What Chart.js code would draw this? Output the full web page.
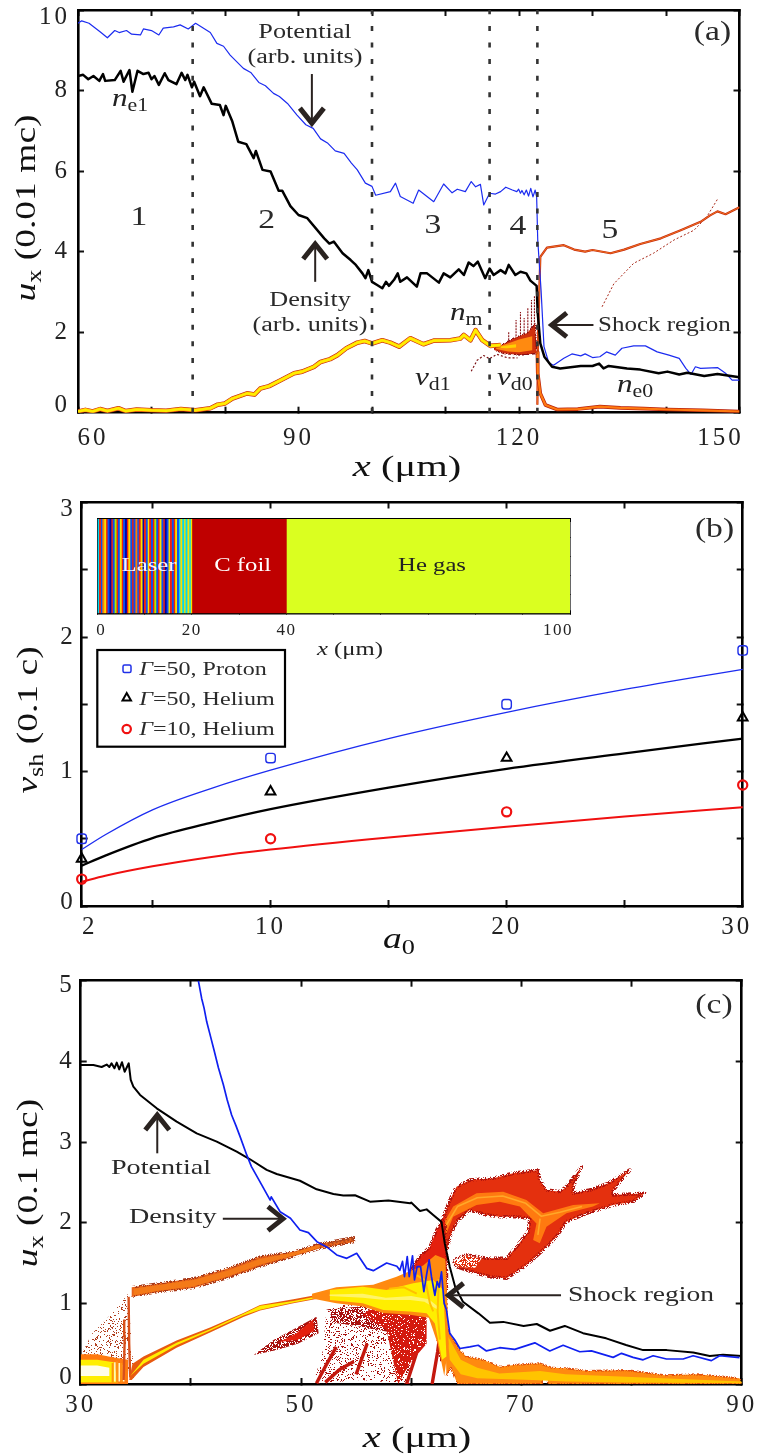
<!DOCTYPE html>
<html><head><meta charset="utf-8">
<style>html,body{margin:0;padding:0;background:#fff}canvas{position:absolute;left:0}</style>
<script src="https://cdn.jsdelivr.net/npm/chart.js@4/dist/chart.umd.js"></script>
</head><body>
<canvas id="ca" style="top:0"></canvas>
<canvas id="cb" style="top:490px"></canvas>
<canvas id="ci" style="top:500px;z-index:2"></canvas>
<canvas id="cc" style="top:960px"></canvas>
<script>
/* ===== panel (a) values ===== */
const aTicksX=[60,70,80,90,100,110,120,130,140,150];
const aLabelsX=[60,90,120,150];
const aShockLines=[75.6,100,116,122.5];
const aPotential=[[60,9.67],[60.5,9.73],[61.5,9.67],[63,9.46],[64,9.31],[65,9.49],[65.6,9.44],[66.6,9.49],[67.3,9.4],[68.5,9.38],[68.9,9.53],[70,9.49],[71,9.38],[71.6,9.55],[73,9.58],[73.9,9.63],[75,9.53],[76,9.67],[78,9.44],[78.9,9.17],[79.8,9.1],[80.7,8.88],[82.5,8.55],[83.5,8.45],[84.6,8.2],[85.5,8.12],[86.6,7.93],[87.4,7.85],[88.5,7.68],[89.8,7.39],[91,7.15],[92,7.06],[93,6.8],[94,6.69],[95,6.5],[96.2,6.44],[97.2,6.2],[98,6.03],[99.1,5.7],[100,5.62],[100.5,5.4],[102.5,5.49],[103.2,5.7],[103.85,5.37],[105.6,5.2],[106.35,5.53],[108.4,5.24],[109.75,5.68],[110.9,5.46],[111.6,5.55],[112.7,5.49],[113.5,5.74],[114.1,5.61],[114.75,5.67],[115.2,5.16],[116,5.45],[116.8,5.43],[117.5,5.49],[118.2,5.6],[119.1,5.53],[119.7,5.49],[119.95,5.55],[120.2,5.45],[120.4,5.52],[120.7,5.41],[121,5.53],[121.3,5.38],[121.6,5.57],[121.9,5.36],[122.2,5.53],[122.4,5.36],[122.55,4.29],[123,3.05],[123.4,1.64],[124.05,1.24],[124.7,1.18],[126.1,1.35],[127.2,1.46],[128.4,1.41],[129,1.46],[130,1.37],[131,1.39],[131.9,1.51],[133.1,1.43],[134,1.6],[135.6,1.66],[137.2,1.66],[138.8,1.51],[140.4,1.43],[141.8,1.35],[142.7,1.1],[143.4,.95],[144,1.14],[144.7,1.1],[147,1.12],[148.1,.98],[149,.81],[150,.81]];
const aDensity=[[60,8.36],[60.7,8.39],[61.4,8.28],[62.1,8.36],[62.9,8.24],[63.4,8.41],[63.7,8.24],[65,8.26],[65.8,8.49],[66.2,8.22],[67,8.51],[67.4,7.97],[68.1,8.49],[68.9,8.41],[69.6,8.44],[70,8.28],[70.4,8.36],[71,8.14],[71.8,8.43],[72.3,8.26],[73.4,8.16],[74.1,8.44],[74.6,8.26],[74.9,8.39],[75.5,8.08],[75.8,8.22],[76.6,7.86],[77.1,8.08],[78.2,7.67],[79.3,7.64],[79.8,7.39],[80.1,7.62],[81,7.23],[81.8,6.73],[82.9,6.67],[83.9,6.32],[84.2,6.5],[85.1,6.03],[86.2,5.99],[87.3,5.51],[87.8,5.51],[88.9,5.13],[90,4.91],[91.2,4.83],[93.5,4.33],[94.2,4.2],[94.8,4.25],[96,3.96],[97.1,3.79],[97.8,3.67],[98.7,3.46],[99.1,3.34],[99.5,3.54],[100,3.25],[100.7,3.17],[101.4,3.09],[101.9,3.25],[102.3,3.15],[103,3.3],[103.5,3.46],[103.85,3.25],[104.76,3.36],[106.1,3.13],[106.6,3.46],[107.5,3.46],[109.1,3.23],[109.75,3.46],[110.65,3.36],[111.8,3.56],[112.5,3.42],[113.15,3.73],[113.8,3.64],[114.4,3.75],[115.4,3.34],[116,3.58],[116.55,3.42],[117.5,3.54],[118.15,3.46],[118.6,3.67],[119.5,3.42],[120.2,3.5],[121,3.46],[121.55,3.28],[122.4,3.15],[122.55,2.47],[122.9,1.72],[123.45,1.39],[124.5,1.14],[125.6,1.1],[128.4,1.16],[130,1.16],[130.9,1.22],[131.5,1.1],[132.2,1.16],[134.7,1.1],[136.5,1.07],[139,.98],[140.2,1.02],[141.8,.95],[142.9,.99],[145.2,.91],[147,.96],[150,.88]];
const aBeam=[[60,.03],[61,.07],[62,.03],[63,.09],[64,.04],[65.5,.11],[66.5,.04],[68,.08],[70,.06],[72,.05],[74,.09],[76,.06],[78,.11],[79,.2],[80,.23],[81,.35],[83,.48],[84,.45],[84.8,.6],[86,.66],[87.5,.8],[89.4,.98],[90.5,1.02],[92.1,1.14],[93,1.26],[94.3,1.33],[95.3,1.43],[96.5,1.6],[98,1.74],[99,1.78],[100,1.72],[101.4,1.8],[102.5,1.74],[103.7,1.64],[105.2,1.85],[107,1.7],[108.4,1.79],[110.65,1.8],[112,1.84],[112.5,1.93],[113.4,1.8],[114.1,2.05],[115,1.8],[116.1,1.66],[117.5,1.68]];
const aFan=[[116.6,1.6],[118,1.72],[119.3,1.85],[121.1,1.98],[122.2,2.2],[122.4,1.47],[120.2,1.43],[118,1.47],[116.6,1.56]];
const aFanCore=[[116.9,1.63],[118.5,1.72],[120,1.82],[121.8,1.9],[121.8,1.55],[120,1.5],[118.5,1.52],[116.9,1.58]];
const aFanPale=[[116.8,1.62],[118.3,1.67],[119.6,1.7],[119.6,1.62],[118.3,1.6]];
const aFanSpikes=[[119.6,1.6],[119.6,2.3],[null,null],[120.2,1.5],[120.2,2.5],[null,null],[120.7,1.5],[120.7,2.35],[null,null],[121.2,1.5],[121.2,2.6],[null,null],[121.7,1.5],[121.7,2.8],[null,null],[122.1,1.5],[122.1,2.9],[null,null],[118.6,1.5],[118.6,2.0],[null,null]];
const aFanTail=[[113.5,1.03],[114.3,1.3],[115.2,1.42],[116,1.34],[117,1.45],[118.5,1.36],[119.8,1.36]];
const aUpper=[[122.5,.2],[122.6,2],[122.9,3.87],[123.8,4.1],[126.1,4.16],[127.5,4.05],[129,4],[130,4.04],[132.45,3.96],[134.3,4.05],[136.5,4.19],[139.3,4.33],[142,4.53],[144.7,4.74],[146,4.9],[147,5],[148.1,4.93],[150,5.1]];
const aFaint=[[131.3,2.63],[132.9,3.2],[135.6,3.71],[138.3,3.96],[141.1,4.29],[143.8,4.53],[145.5,4.85],[147,5.3]];
const aLower=[[122.5,1.5],[122.55,.98],[122.9,.48],[123.6,.19],[125.2,.08],[128,.09],[131,.15],[133.8,.12],[137,.1],[140.2,.08],[145,.06],[150,.03]];

/* ===== panel (b) values ===== */
const bTicksX=[2,5,10,15,20,25,30];
const bLabelsX=[2,10,20,30];
const bA0=[2,3,5,7.5,10,15,20,25,30];
const bProtonFit=[.42,.53,.715,.875,1.01,1.245,1.44,1.61,1.76];
const bHeliumFit50=[.3,.375,.505,.62,.72,.88,1.02,1.135,1.245];
const bHeliumFit10=[.18,.225,.295,.365,.42,.51,.59,.665,.735];
const bSimA0=[2,10,20,30];
const bProtonSim=[.5,1.1,1.5,1.9];
const bHeliumSim50=[.35,.85,1.1,1.4];
const bHeliumSim10=[.2,.5,.7,.9];
const bLegendRows=['50, Proton','50, Helium','10, Helium'];

/* ===== inset values ===== */
const insetTicks=[0,10,20,30,40,50,60,70,80,90,100];
const insetLabels=[0,20,40,100];
const stripeEnds=[.3,.7,1,1.4,1.8,2.1,2.5,2.9,3.2,3.6,4,4.3,4.7,5.1,5.4,5.8,6.2,6.5,6.9,7.3,7.6,8,8.4,8.7,9.1,9.5,9.8,10.2,10.6,10.9,11.3,11.7,12,12.4,12.8,13.1,13.5,13.9,14.2,14.6,15,15.3,15.7,16.1,16.4,16.8,17.2,17.5,17.9,18.3,18.6,19,19.4,19.7,20];
const stripeCodes='CRBOYRBNRBGRBYRBNRYBRBOBRYNRBYRBRGBRYBRNBYRBRYBCYCYCYCY';
const stripeColor={C:'#00d8f0',R:'#f0200a',B:'#0a50f0',O:'#ff8000',Y:'#f8e000',N:'#0000a8',G:'#a8f000'};
const insetFoil=[20,40];
const insetGas=[40,100];

/* ===== panel (c) values ===== */
const cTicksX=[30,40,50,60,70,80,90];
const cLabelsX=[30,50,70,90];
const cPotential=[[30,3.955],[31.15,3.955],[31.9,3.93],[32.36,3.96],[32.6,3.93],[32.8,3.975],[33.06,3.914],[33.27,3.984],[33.5,3.9],[33.75,3.99],[33.99,3.87],[34.36,3.976],[34.54,3.77],[34.78,3.687],[35.39,3.583],[36.9,3.418],[38.71,3.253],[40.53,3.108],[42.35,3.005],[44.16,2.88],[45.37,2.786],[46.88,2.654],[47.79,2.604],[49.9,2.52],[51.42,2.414],[52.94,2.356],[53.84,2.336],[54.9,2.34],[56.26,2.261],[57.93,2.274],[59.9,2.24],[60,2.25],[60.8,2.145],[61.4,2.165],[62,2.095],[62.75,2.01],[63.05,1.74],[63.5,1.455],[64,1.2],[64.7,1.02],[66.1,.876],[67.14,.76],[68.35,.77],[70.2,.72],[71.4,.744],[72.6,.66],[73.94,.72],[75.6,.63],[77.7,.566],[79.5,.484],[81.05,.42],[83.2,.42],[85.6,.39],[87.1,.347],[88.3,.364],[90,.347]];
const cDensity=[[40.68,5],[40.98,4.78],[41.2,4.66],[41.44,4.49],[41.8,4.3],[42.1,4.14],[42.5,3.92],[42.95,3.71],[43.3,3.52],[43.7,3.335],[44.1,3.2],[44.46,3.07],[45.07,2.84],[45.5,2.695],[46.43,2.468],[47.2,2.28],[47.3,2.32],[48.1,2.136],[49.04,2.054],[49.9,1.91],[50.67,1.876],[51.44,1.765],[52.33,1.7],[53.24,1.6],[54.15,1.558],[55.05,1.62],[55.96,1.434],[56.56,1.405],[57.77,1.5],[58.7,1.46],[58.97,1.41],[59.21,1.52],[59.39,1.33],[59.64,1.58],[59.82,1.33],[60.12,1.59],[60.3,1.29],[60.54,1.455],[60.85,1.455],[61.15,1.145],[61.39,1.35],[61.63,1.54],[61.84,1.33],[62.15,1.1],[62.36,1.27],[62.54,1.2],[62.75,1.39],[62.99,1],[63.2,.92],[63.5,.63],[63.96,.545],[64.41,.44],[65.32,.46],[66.08,.48],[66.83,.41],[68.04,.45],[69.4,.43],[71.22,.51],[72.58,.41],[73.79,.48],[75.3,.4],[76.36,.41],[78.33,.33],[79.09,.38],[80.14,.33],[81.05,.3],[81.96,.35],[83.17,.31],[84.68,.31],[85.59,.35],[87.25,.29],[88,.35],[89.8,.327]];
const cSparseHalo=[[30,.35],[31,.62],[33,.9],[34.3,1.12],[34.9,.02],[33.9,.3],[32,.35]];
const cHeatOrange=[[30,0],[30,.37],[31.5,.37],[33,.33],[34.3,.3],[34.3,0]];
const cHeatYellow=[[30,.02],[30,.3],[31.5,.3],[33,.27],[33.4,.02]];
const cHeatPale=[[30,.1],[30,.23],[31.5,.23],[32.6,.2],[32.6,.1]];
const cHeatStripes=[[32.9,.02],[32.9,.26],[null,null],[33.3,.02],[33.3,.28],[null,null],[33.7,.02],[33.7,.26],[null,null]];
const cHeatGaps=[[33.1,.03],[33.1,.27],[null,null],[33.5,.03],[33.5,.26],[null,null],[33.9,.03],[33.9,.24],[null,null]];
const cVertical=[[33.9,.05],[34,.6],[33.95,.8],[null,null],[34.5,.08],[34.4,.5],[34.35,1.08]];
const cUpperOuter=[[34.63,1.2],[37.2,1.25],[40.2,1.31],[43.25,1.43],[46.28,1.58],[49.3,1.64],[51.7,1.74],[54.8,1.82],[54.8,1.76],[51.7,1.68],[49.3,1.58],[46.28,1.455],[43.25,1.31],[40.2,1.19],[37.2,1.145],[34.63,1.08]];
const cUpperCore=[[34.8,1.18],[37.2,1.23],[40.2,1.29],[43.25,1.4],[46.28,1.55],[49.3,1.63],[51.7,1.73],[51.7,1.69],[49.3,1.59],[46.28,1.48],[43.25,1.33],[40.2,1.21],[37.2,1.16],[34.8,1.1]];
const cLowerEdge=[[34.4,.05],[34.63,.05],[35.7,.21],[38.7,.45],[41.74,.64],[44.76,.83],[46.28,.91],[49.3,1],[52,1.07],[52,1.12],[49.3,1.05],[46.28,.98],[44.76,.88],[41.74,.7],[38.7,.54],[35.7,.34],[34.7,.25]];
const cLowerCore=[[34.5,.1],[35.7,.25],[38.7,.48],[41.74,.66],[44.76,.85],[46.28,.92],[49.3,1.01],[52,1.08],[52,1.1],[49.3,1.03],[46.28,.97],[44.76,.87],[41.74,.68],[38.7,.51],[35.7,.3]];
const cRedPatch=[[45.7,.36],[47.5,.545],[49.5,.69],[51.4,.835],[51.6,.63],[49.7,.5],[47.8,.42]];
const cRedPatchCore=[[48,.52],[49.5,.62],[51.1,.8],[51.2,.66],[49.7,.55]];
const cLowSparse=[[52.3,.92],[53.84,.98],[59.9,.96],[59.9,0],[55.4,.05],[51.1,0],[52,.42]];
const cLowDense=[[52.5,.92],[56.5,.98],[59,.9],[59,.62],[55,.72],[53,.76]];
const cVeins=[[51.4,.01],[52.3,.24],[53.2,.46],[null,null],[52.2,.02],[53.5,.18],[54.8,.28],[null,null],[55,.12],[56,.5],[null,null],[59.58,0],[60.48,.38],[null,null],[61.9,0],[62.4,.4],[62.7,.72],[null,null]];
const cRedSolid=[[56.55,.96],[61.4,.917],[61.4,.5],[59.88,.256],[58.82,0],[57.76,.67],[55.6,.86]];
const cColumnRed=[[58.67,1.3],[59.57,1.33],[60.78,1.58],[61.69,1.7],[62.3,1.91],[62.75,2.01],[63.05,2.116],[63.2,1.62],[63.2,1.165],[63.06,.4],[62.7,.3],[62.15,.8],[60,1]];
const cLoopRed=[[62.75,2.01],[63.05,2.116],[63.51,2.281],[64.11,2.446],[65.32,2.529],[67.44,2.55],[69.25,2.612],[71.52,2.653],[71.67,2.529],[72.28,2.405],[73.49,2.384],[74.09,2.446],[75.46,2.694],[74.7,2.446],[74.7,2.364],[76.21,2.405],[77.88,2.488],[79.84,2.653],[78.33,2.405],[78.33,2.343],[81.2,2.364],[80.14,2.261],[78.33,2.219],[75.91,2.116],[74.09,2.013],[73.19,1.827],[71.98,1.661],[70.46,1.475],[68.65,1.31],[67.14,1.331],[65.93,1.372],[64.11,1.455],[63.81,1.537],[65.02,1.6],[66.83,1.558],[68.65,1.558],[69.56,1.703],[70.62,1.889],[70.77,2.054],[69.25,2.075],[68.04,2.075],[66.83,2.095],[65.32,2.157],[64.11,2.013],[63.51,1.827],[63.2,1.62],[63.2,1.165],[62.9,1.165]];
const cLobeHoles=[[63.81,1.537],[65.02,1.6],[66.4,1.56],[65.8,1.44],[64.11,1.455]];
const cLoopOrange=[[62.75,1.95],[63.81,2.2],[65.93,2.364],[68.35,2.384],[70.46,2.281],[71.98,2.116],[74.7,2.219],[77.12,2.24],[76.5,2.2],[74.09,2.116],[72.28,1.95],[71.67,1.744],[71.07,1.785],[71.37,1.99],[69.86,2.2],[68.04,2.26],[65.93,2.22],[63.81,2.075],[63.2,1.87]];
const cLoopStreak=[[63.1,1.95],[64.2,2.2],[66,2.31],[68.3,2.33],[70.4,2.24],[71.8,2.08],[73.5,2.13],[75.5,2.2],[null,null],[71.7,2.05],[71.5,1.85]];
const cCoreOrange=[[51,1.12],[53.2,1.2],[56.55,1.23],[58.67,1.33],[61.09,1.47],[62.2,1.6],[63.1,1.55],[63.25,1.1],[63.4,.5],[63,.1],[62.4,.5],[61.6,.82],[59.88,.86],[57.46,.88],[55.6,.96],[53.2,1],[51,1.06]];
const cCoreYellow=[[52.62,1.165],[55.6,1.207],[57.76,1.165],[60.18,1.248],[62,1.29],[62.9,1.165],[63.06,.75],[63.2,.34],[62.8,.3],[62.15,.75],[61.4,.876],[59.88,.9],[57.46,.917],[55.6,1],[52.62,1.04]];
const cCorePale=[[52.6,1.11],[55.6,1.12],[57.7,1.07],[60,1.09],[61.6,1.05],[62.5,.95],[62.3,.93],[61.2,1.02],[59.9,1.04],[57.6,1.04],[55.6,1.07],[52.6,1.09]];
const cCoreGold=[[60.5,1.35],[61.3,1.28],[61.7,1.0],[62,.9],[null,null],[62.5,1.3],[62.4,.9],[62.6,.55],[null,null],[58,1.18],[59.3,1.2],[60.5,1.12]];
const cPlume=[[63.06,.79],[63.5,.63],[64.4,.42],[65,.34],[66.5,.3],[68.05,.215],[69.5,.24],[71.67,.256],[72.8,.2],[74.09,.194],[76,.16],[79.5,.174],[83,.11],[86,.12],[89.8,.07],[90,0],[72.4,0],[72.4,.09],[71.9,.09],[71.9,0],[64.2,0],[63.6,.2],[63.2,.1]];
const cPlumeCore=[[63.3,.6],[64.5,.3],[66,.2],[68,.13],[71.7,.16],[74,.12],[79.5,.09],[90,.03],[90,.01],[79.5,.02],[74,.03],[71,.05],[66,.07],[64.5,.12],[63.5,.3]];

/* ===== texture tiles, arrows, text ===== */
function tile(color,threshold){
  const n=64,c=document.createElement('canvas');c.width=c.height=n;const g=c.getContext('2d');g.fillStyle=color;
  for(let i=0;i<n;i++)for(let j=0;j<n;j++){let h=Math.imul(i+1,73856093)^Math.imul(j+1,19349663);h=Math.imul(h^(h>>>13),1274126177);h=(h^(h>>>16))>>>0;if(h%101<threshold)g.fillRect(i,j,1,1);}
  return g.createPattern(c,'repeat');
}
const FONT='"Liberation Serif"';
function runsWidth(ctx,runs,size){let w=0;for(const r of runs){const s=r.sub?size*.7:size;ctx.font=(r.it?'italic ':'')+s+'px '+FONT;w+=ctx.measureText(r.t).width+(r.gap||0);}return w;}
function rich(ctx,x,y,runs,o){
  o=o||{};const size=o.size||20,st=o.stretch||1.28;
  if(typeof runs==='string')runs=[{t:runs}];
  ctx.save();ctx.letterSpacing='0px';ctx.textBaseline='alphabetic';ctx.textAlign='left';ctx.fillStyle=o.color||'#2a2a2a';
  ctx.translate(x,y);if(o.rot)ctx.rotate(o.rot);ctx.scale(st,1);
  let cx=0;const w=runsWidth(ctx,runs,size);
  if(o.align==='center')cx=-w/2;
  for(const r of runs){const s=r.sub?size*.7:size;ctx.font=(r.it?'italic ':'')+s+'px '+FONT;
    ctx.fillText(r.t,cx,r.sub?size*.2:0);cx+=ctx.measureText(r.t).width+(r.gap||0);}
  ctx.restore();
}
function arrow(chart,from,to,head,shaft){
  const {x,y}=chart.scales,ctx=chart.ctx;
  const x0=x.getPixelForValue(from[0]),y0=y.getPixelForValue(from[1]),x1=x.getPixelForValue(to[0]),y1=y.getPixelForValue(to[1]);
  const a=Math.atan2(y1-y0,x1-x0);
  ctx.save();ctx.strokeStyle='#2a2320';ctx.lineCap='butt';ctx.lineJoin='miter';
  ctx.lineWidth=shaft||2;ctx.beginPath();ctx.moveTo(x0,y0);ctx.lineTo(x1,y1);ctx.stroke();
  ctx.lineWidth=head||5;ctx.beginPath();
  ctx.moveTo(x1-17*Math.cos(a)+12*Math.sin(a),y1-17*Math.sin(a)-12*Math.cos(a));
  ctx.lineTo(x1-Math.cos(a)*2,y1-Math.sin(a)*2);
  ctx.lineTo(x1-17*Math.cos(a)-12*Math.sin(a),y1-17*Math.sin(a)+12*Math.cos(a));ctx.stroke();ctx.restore();
}
function nudger(map){return s=>{if(s._nudged)return;s._nudged=1;const o=s._computeLabelItems;
  s._computeLabelItems=function(ca){const items=o.call(this,ca);items.forEach((it,i)=>{const t=this.ticks[i];const d=t&&map[t.value];
    if(d){it.options.translation[0]+=d[0];it.options.translation[1]+=d[1];}});return items;};};}
const fitX=h=>s=>{s.height=h;s.paddingLeft=s.paddingRight=s.paddingTop=s.paddingBottom=0;};
const fitY=w=>s=>{s.width=w;s.paddingLeft=s.paddingRight=s.paddingTop=s.paddingBottom=0;};
function gridOpt(len,width){return {drawOnChartArea:false,drawTicks:true,tickLength:len,tickWidth:width,tickColor:'#111',color:'#111'};}
function axes(g,c){
  const border={display:true,color:'#000',width:c.bw||2.6};
  const tl=c.tl||-6,tw=c.tw||2;
  const setTicks=list=>s=>{s.ticks=list.map(v=>({value:v}));};
  const font={family:FONT,size:c.fs||25};
  return {
    x:{type:'linear',position:'bottom',min:c.x[0],max:c.x[1],border,grid:gridOpt(tl,tw),afterBuildTicks:setTicks(c.xt),afterFit:fitX(g.h-g.b),afterUpdate:nudger(c.xn||{}),
       ticks:{autoSkip:false,maxRotation:0,minRotation:0,color:'#222',font,padding:c.xp,align:'center',callback:v=>c.xl.includes(v)?String(v):''}},
    x2:{type:'linear',axis:'x',position:'top',min:c.x[0],max:c.x[1],border,grid:gridOpt(tl,tw),afterBuildTicks:setTicks(c.xt),afterFit:fitX(g.t),ticks:{display:false,autoSkip:false}},
    y:{type:'linear',position:'left',min:c.y[0],max:c.y[1],border,grid:gridOpt(tl,tw),afterBuildTicks:setTicks(c.yt),afterFit:fitY(g.l),afterUpdate:nudger(c.yn||{}),
       ticks:{autoSkip:false,color:'#222',font,padding:c.yp,callback:v=>c.yl.includes(v)?String(v):''}},
    y2:{type:'linear',axis:'y',position:'right',min:c.y[0],max:c.y[1],border,grid:gridOpt(tl,tw),afterBuildTicks:setTicks(c.yt),afterFit:fitY(g.w-g.r),ticks:{display:false,autoSkip:false}}
  };
}
function stack(list){list.forEach((d,i)=>{d.order=list.length-i;});return list;}
const L=(data,color,w,extra)=>Object.assign({type:'line',data,borderColor:color,backgroundColor:color,borderWidth:w,pointRadius:0,tension:0,fill:false,spanGaps:false,borderJoinStyle:'round'},extra||{});
const P=(data,color,edge,edgeWidth)=>({type:'line',data,borderWidth:edgeWidth||0,borderColor:edge||'transparent',backgroundColor:color,pointRadius:0,tension:0,fill:'shape',borderJoinStyle:'round'});
function mk(id,g,type,data,scales,plugin,spacing,extra){
  const cv=document.getElementById(id);cv.width=g.w;cv.height=g.h;
  return new Chart(cv,{type,data,options:Object.assign({responsive:false,animation:false,devicePixelRatio:1,layout:{padding:0},plugins:{legend:{display:false},tooltip:{enabled:false}},events:[],scales},extra||{}),plugins:[
    {id:'sp',beforeDraw(ch){ch.ctx.letterSpacing=spacing;}},
    {id:'ann',afterDraw(ch){plugin(ch,ch.ctx);}}]});
}
const C_DR='#a8120f',C_R='#e4200e',C_O='#ff7a10',C_Y='#ffee00',C_P='#fff46a';

/* ===== (a) ===== */
const ga={w:759,h:490,l:78,r:739.5,t:10,b:412.7};
const aD=stack([
  L(aFaint,'#a82818',1,{borderDash:[2,2]}),
  L(aUpper,'#c4280c',2.2),L(aUpper,'#f07020',1),
  L(aLower,'#b8200c',3.6),L(aLower,'#ff7a10',2.2),
  L(aFanTail,'#7a0f12',1.2,{borderDash:[2,2]}),
  L(aFanSpikes,'#8a1014',1.1,{borderDash:[2,1]}),
  P(aFan,'#d0300e',tile('#8a1014',55),1.5),P(aFanCore,'#ff8a10'),P(aFanPale,'#ffd000'),
  L(aBeam,'#c0240c',4.6),L(aBeam,'#ff9a10',3.6),L(aBeam,'#ffee00',2.6),
  L(aPotential,'#1c2cf0',1.2),
  L(aDensity,'#000',2.5),
  ...aShockLines.map(v=>L([[v,0],[v,10]],'#333',2.6,{borderDash:[5,11.6],borderCapStyle:'butt'}))
]);
mk('ca',ga,'line',{datasets:aD},axes(ga,{x:[60,150],y:[0,10],xt:aTicksX,xl:aLabelsX,yt:[0,2,4,6,8,10],yl:[0,2,4,6,8,10],xp:17,yp:14,
   xn:{60:[15,0],150:[-19,0]},yn:{10:[0,7],0:[0,-7]}}),(ch,ctx)=>{
  arrow(ch,[91.82,8.41],[91.82,7.14]);arrow(ch,[92.27,3.25],[92.27,4.24]);arrow(ch,[130.13,2.18],[124.18,2.18]);
  const S=20.5;
  rich(ctx,305,38,'Potential',{size:S,align:'center'});rich(ctx,305,63,'(arb. units)',{size:S,align:'center'});
  rich(ctx,310,306,'Density',{size:S,align:'center'});rich(ctx,310,331,'(arb. units)',{size:S,align:'center'});
  rich(ctx,598,331,'Shock region',{size:S,stretch:1.22});
  [['1',139],['2',266.7],['3',433],['4',518],['5',610]].forEach((r,i)=>rich(ctx,r[1],[225,228,233,234,238][i],r[0],{size:28,align:'center',stretch:1.2}));
  rich(ctx,712.5,40,'(a)',{size:28,align:'center',stretch:1.2});
  const mn=(x,y,a,b)=>rich(ctx,x,y,[{t:a,it:1},{t:b,sub:1}],{size:26,stretch:1.2,color:'#222'});
  mn(112,106,'n','e1');mn(450,320,'n','m');mn(415,385,'v','d1');mn(497,385,'v','d0');mn(617,392,'n','e0');
  rich(ctx,407,476,[{t:'x',it:1},{t:' (μm)'}],{size:30,align:'center',stretch:1.35,color:'#111'});
  rich(ctx,35,208,[{t:'u',it:1},{t:'x',sub:1},{t:' (0.01 mc)'}],{size:30,align:'center',rot:-Math.PI/2,stretch:1.25,color:'#111'});
},'3px');

/* ===== (b) ===== */
const OB=490;
const gb={w:759,h:470,l:81.7,r:742.7,t:12.5,b:416};
const pairs=(xs,ys)=>xs.map((x,i)=>[x,ys[i]]);
const mono={cubicInterpolationMode:'monotone',clip:false};
const sim=(ys,color,style,r,w)=>({type:'line',data:pairs(bSimA0,ys),showLine:false,pointStyle:style,pointRadius:r,pointBorderColor:color,pointBackgroundColor:'rgba(0,0,0,0)',pointBorderWidth:w,clip:false,borderColor:color,backgroundColor:'rgba(0,0,0,0)'});
const bD=stack([
  L(pairs(bA0,bProtonFit),'#1c2cf0',1.3,mono),
  L(pairs(bA0,bHeliumFit50),'#000',2.3,mono),
  L(pairs(bA0,bHeliumFit10),'#f01010',2,mono),
  Object.assign(sim(bProtonSim,'#2030e8','rectRounded',5.5,1.4),{label:'Γ=50, Proton'}),
  Object.assign(sim(bHeliumSim50,'#000','triangle',5.6,2),{label:'Γ=50, Helium'}),
  Object.assign(sim(bHeliumSim10,'#f01010','circle',4.6,2.2),{label:'Γ=10, Helium'})
]);
mk('cb',gb,'line',{datasets:bD},axes(gb,{x:[2,30],y:[0,3],xt:bTicksX,xl:bLabelsX,yt:[0,.5,1,1.5,2,2.5,3],yl:[0,1,2,3],xp:12,yp:12,
   xn:{2:[8,0],30:[-6,0]},yn:{3:[0,7],0:[0,-4]}}),(ch,ctx)=>{
  const Y=v=>v-OB;
  ctx.save();ctx.fillStyle='#fff';ctx.strokeStyle='#000';ctx.lineWidth=2.2;ctx.fillRect(97.3,Y(650),187.7,96.7);ctx.strokeRect(97.3,Y(650),187.7,96.7);ctx.restore();
  const rows=[675,705,735];
  bLegendRows.forEach((t,i)=>rich(ctx,139.3,Y(rows[i]),[{t:'Γ',it:1},{t:'='},{t:t}],{size:18.5,stretch:1.3}));
  ctx.save();ctx.lineWidth=1.5;ctx.strokeStyle='#2030e8';ctx.beginPath();ctx.roundRect(123,Y(665),8,7.5,1.5);ctx.stroke();
  ctx.lineWidth=2;ctx.strokeStyle='#000';ctx.beginPath();ctx.moveTo(122.5,Y(700.5));ctx.lineTo(131,Y(700.5));ctx.lineTo(126.7,Y(693));ctx.closePath();ctx.stroke();
  ctx.lineWidth=2.2;ctx.strokeStyle='#f01010';ctx.beginPath();ctx.arc(126.7,Y(729),4.2,0,7);ctx.stroke();ctx.restore();
  rich(ctx,714.5,Y(537),'(b)',{size:28,align:'center',stretch:1.2});
  rich(ctx,383,Y(948),[{t:'a',it:1},{t:'0',sub:1}],{size:30,stretch:1.25,color:'#111'});
  rich(ctx,37,Y(720),[{t:'v',it:1},{t:'sh',sub:1},{t:' (0.1 c)'}],{size:30,align:'center',rot:-Math.PI/2,stretch:1.25,color:'#111'});
},'3px');

/* ===== inset ===== */
const gi={w:640,h:160,l:97.3,r:570,t:19,b:113.3};
const insetSets=[];
const barStyle={borderWidth:0,barPercentage:1,categoryPercentage:1,grouped:false,xAxisID:'x',yAxisID:'y'};
stripeEnds.forEach((e,i)=>insetSets.push(Object.assign({label:'',data:[[i?stripeEnds[i-1]:0,e]],backgroundColor:stripeColor[stripeCodes[i]]},barStyle)));
insetSets.push(Object.assign({label:'C foil',data:[insetFoil],backgroundColor:'#bf0000'},barStyle));
insetSets.push(Object.assign({label:'He gas',data:[insetGas],backgroundColor:'#daff20'},barStyle));
const insetScales=axes(gi,{x:[0,100],y:[0,4],xt:insetTicks,xl:insetLabels,yt:[0,1,2,3,4],yl:[],xp:10,yp:8,fs:17,tl:-3,tw:1,bw:1.6,xn:{0:[4,0],100:[-12,0]}});
insetScales.yv=insetScales.y;delete insetScales.y;insetScales.yv.axis='y';
insetScales.y={type:'category',labels:[''],display:false};
mk('ci',gi,'bar',{labels:[''],datasets:insetSets},insetScales,(ch,ctx)=>{
  rich(ctx,149,71,'Laser',{size:19,align:'center',color:'#f4f4ff',stretch:1.3});
  rich(ctx,242.7,71,'C foil',{size:19,align:'center',color:'#fff',stretch:1.3});
  rich(ctx,432,71,'He gas',{size:19,align:'center',color:'#222',stretch:1.3});
  rich(ctx,350,155,[{t:'x',it:1},{t:' (μm)'}],{size:19,align:'center',color:'#222',stretch:1.3});
},'1.5px',{indexAxis:'y'});

/* ===== (c) ===== */
const OC=960;
const gc={w:759,h:495,l:80.7,r:741.7,t:20.7,b:424};
const cD=stack([
  P(cSparseHalo,tile('#b04020',16)),
  P(cHeatOrange,C_O),P(cHeatYellow,C_Y),P(cHeatPale,'#fffde8'),
  L(cHeatStripes,'#ff9010',2),L(cHeatGaps,'#fff8c0',1.6),
  L(cVertical,'#d8501a',2.4),
  P(cUpperOuter,'#e8641a',tile('#a83818',45),2.5),P(cUpperCore,'#f47a18'),
  L([[51.7,1.72],[53.5,1.77],[54.9,1.8]],'#b04a20',2.5,{borderDash:[2,2]}),
  P(cLowerEdge,'#e85a10'),P(cLowerCore,C_Y),
  P(cLowSparse,tile(C_DR,16)),P(cLowDense,tile(C_DR,60)),
  P(cRedPatch,tile(C_DR,72)),P(cRedPatchCore,C_R),
  L(cVeins,'#c4180e',3.4),
  P(cRedSolid,tile('#d41a0e',90)),
  P(cLoopRed,'#e4300e',tile('#b0140e',50),3.5),P(cLobeHoles,tile('#ffffff',45)),P(cLoopOrange,'#ff7a10'),
  L(cLoopStreak,'#ffa828',1.6),
  P(cColumnRed,C_R,tile('#b0140e',50),3),
  P(cPlume,'#ff8a10',tile('#e05010',50),2),P(cPlumeCore,'#ffc400'),
  P(cCoreOrange,'#ff8a10'),P(cCoreYellow,C_Y),P(cCorePale,C_P),L(cCoreGold,'#ffc000',2),
  L(cPotential,'#000',2),
  L(cDensity,'#1020f0',1.7)
]);
mk('cc',gc,'line',{datasets:cD},axes(gc,{x:[30,90],y:[0,5],xt:cTicksX,xl:cLabelsX,yt:[0,1,2,3,4,5],yl:[0,1,2,3,4,5],xp:12,yp:12,
   xn:{},yn:{5:[0,5],0:[0,-7]}}),(ch,ctx)=>{
  arrow(ch,[36.95,2.86],[36.95,3.36]);arrow(ch,[42.9,2.05],[48.54,2.05]);arrow(ch,[73.6,1.1],[63.2,1.1]);
  const Y=v=>v-OC,S=22;
  rich(ctx,161,Y(1174),'Potential',{size:S,align:'center'});
  rich(ctx,172.7,Y(1223),'Density',{size:S,align:'center'});
  rich(ctx,568,Y(1301),'Shock region',{size:S,stretch:1.25});
  rich(ctx,714,Y(1013),'(c)',{size:28,align:'center',stretch:1.2});
  rich(ctx,417,Y(1447),[{t:'x',it:1},{t:' (μm)'}],{size:30,align:'center',stretch:1.35,color:'#111'});
  rich(ctx,37,Y(1183),[{t:'u',it:1},{t:'x',sub:1},{t:' (0.1 mc)'}],{size:30,align:'center',rot:-Math.PI/2,stretch:1.25,color:'#111'});
},'3px');
</script>
</body></html>
